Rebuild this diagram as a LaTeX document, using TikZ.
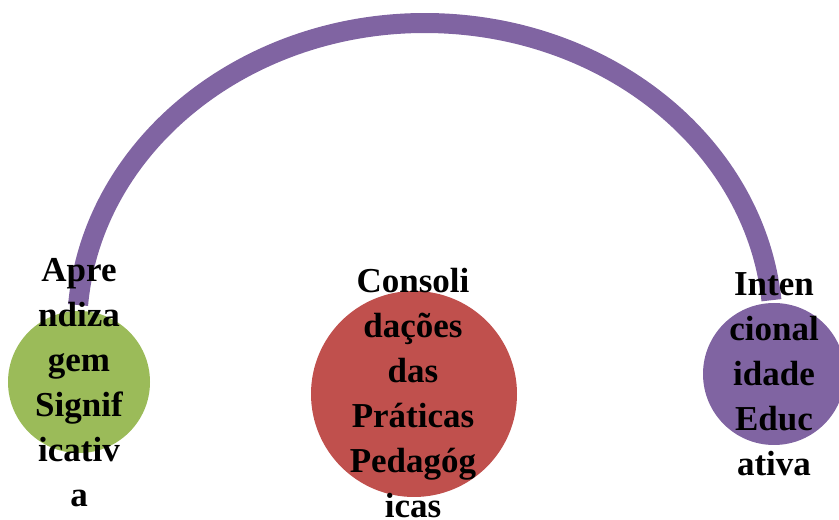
\documentclass[tikz,border=0pt]{standalone}
\usepackage{fontspec}
\setmainfont{Liberation Serif}
\definecolor{cgreen}{HTML}{9BBB59}
\definecolor{cred}{HTML}{C0504D}
\definecolor{cpurple}{HTML}{8064A2}
\begin{document}
\begin{tikzpicture}[x=1pt,y=1pt,
  blob/.style={circle, inner sep=0pt, minimum size=#1},
  lbl/.style={align=center, inner sep=0pt, font=\fontsize{35}{45}\selectfont\bfseries},
  link/.style={draw=cpurple, line width=20pt}]
\useasboundingbox (0,0) rectangle (839,520);
\clip (0,0) rectangle (839,520);
\node[blob=142pt, fill=cgreen] (g) at (79,138) {};
\node[blob=206pt, fill=cred] (r) at (414,126) {};
\node[blob=142pt, fill=cpurple] (p) at (774,146) {};
\coordinate (aL) at (78.1,215);
\coordinate (aR) at (771.5,219.8);
\draw[link] (aL) arc[start angle=175.5, end angle=5.4, x radius=348, y radius=306];
\node[lbl] (tg) at (79,137) {Apre\\ndiza\\gem\\Signif\\icativ\\a};
\node[lbl] (tr) at (413,127) {Consoli\\dações\\das\\Práticas\\Pedagóg\\icas};
\node[lbl] (tp) at (774,146) {Inten\\cional\\idade\\Educ\\ativa};
\end{tikzpicture}
\end{document}
